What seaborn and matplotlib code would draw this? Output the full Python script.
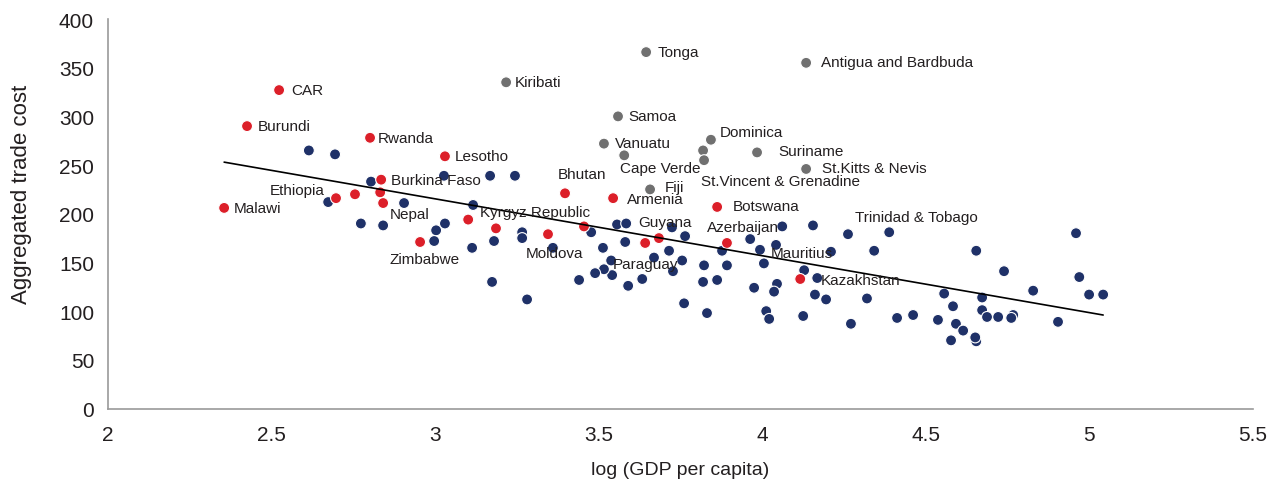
import numpy as np
import pandas as pd
import seaborn as sns
import matplotlib.pyplot as plt

# landlocked developing countries (red)
red_x = [2.523, 2.425, 2.801, 3.030, 2.835, 2.697, 2.755, 2.832, 2.841, 2.954, 3.101,
         3.186, 3.345, 3.397, 3.544, 3.455, 3.642, 3.684, 3.862, 3.892, 2.355, 4.116]
red_y = [327, 290, 278, 259, 235, 216, 220, 222, 211, 171, 194,
         185, 179, 221, 216, 187, 170, 175, 207, 170, 206, 133]
red_names = ['CAR', 'Burundi', 'Rwanda', 'Lesotho', 'Burkina Faso', 'Ethiopia', '', '', 'Nepal',
             'Zimbabwe', 'Kyrgyz Republic', '', 'Moldova', 'Bhutan', 'Armenia', '', 'Paraguay', '',
             'Botswana', 'Azerbaijan', 'Malawi', 'Kazakhstan']

# small island states (grey)
grey_x = [3.645, 4.134, 3.217, 3.559, 3.516, 3.578, 3.657, 3.843, 3.819, 3.822, 3.984, 4.134]
grey_y = [366, 355, 335, 300, 272, 260, 225, 276, 265, 255, 263, 246]
grey_names = ['Tonga', 'Antigua and Bardbuda', 'Kiribati', 'Samoa', 'Vanuatu', 'Cape Verde', 'Fiji',
              'Dominica', '', 'St.Vincent & Grenadine', 'Suriname', 'St.Kitts & Nevis']

# other countries (navy)
navy_x = [2.614, 2.694, 2.804, 2.673, 2.905, 2.773, 2.841, 3.030, 3.003, 2.997, 3.027, 3.168,
          3.244, 3.116, 3.180, 3.113, 3.266, 3.266, 3.360, 3.174, 3.281, 3.477, 3.556, 3.584,
          3.513, 3.581, 3.538, 3.541, 3.516, 3.489, 3.440, 3.590, 3.633, 3.715, 3.669, 3.755,
          3.727, 3.724, 3.764, 3.761, 3.822, 3.892, 3.877, 3.819, 3.862, 3.831, 3.963, 4.061,
          3.993, 4.042, 4.005, 3.975, 4.045, 4.036, 4.012, 4.021, 4.128, 4.125, 4.155, 4.262,
          4.388, 4.210, 4.342, 4.654, 4.739, 4.168, 4.161, 4.195, 4.320, 4.556, 4.583, 4.672,
          4.672, 4.687, 4.721, 4.767, 4.761, 4.271, 4.412, 4.461, 4.537, 4.592, 4.614, 4.577,
          4.654, 4.651, 4.959, 4.969, 4.999, 5.042, 4.904, 4.828]
navy_y = [265, 261, 233, 212, 211, 190, 188, 190, 183, 172, 239, 239,
          239, 209, 172, 165, 181, 175, 165, 130, 112, 181, 189, 190,
          165, 171, 152, 137, 143, 139, 132, 126, 133, 162, 155, 152,
          141, 186, 177, 108, 147, 147, 162, 130, 132, 98, 174, 187,
          163, 168, 149, 124, 128, 120, 100, 92, 142, 95, 188, 179,
          181, 161, 162, 162, 141, 134, 117, 112, 113, 118, 105, 114,
          101, 94, 94, 96, 93, 87, 93, 96, 91, 87, 80, 70,
          69, 73, 180, 135, 117, 117, 89, 121]
navy_names = [''] * len(navy_x)
navy_names[37] = 'Guyana'
navy_names[50] = 'Mauritius'
navy_names[60] = 'Trinidad & Tobago'

# fitted trend line end points
trend_x = [2.355, 5.042]
trend_y = [253, 96]

# label offsets in pixels: (dx, dy, ha)
label_pos = {
    'CAR': (12, 0, 'left'), 'Burundi': (11, 0, 'left'), 'Rwanda': (8, 0, 'left'),
    'Lesotho': (10, 0, 'left'), 'Burkina Faso': (10, 0, 'left'), 'Ethiopia': (-11, 8, 'right'),
    'Malawi': (10, 0, 'left'), 'Nepal': (7, -11, 'left'), 'Zimbabwe': (4, -17, 'center'),
    'Kyrgyz Republic': (12, 8, 'left'), 'Moldova': (6, -19, 'center'), 'Bhutan': (17, 19, 'center'),
    'Armenia': (14, -1, 'left'), 'Paraguay': (0, -21, 'center'), 'Botswana': (16, 1, 'left'),
    'Azerbaijan': (-20, 16, 'left'), 'Kazakhstan': (21, -1, 'left'),
    'Tonga': (11, 0, 'left'), 'Antigua and Bardbuda': (15, 1, 'left'), 'Kiribati': (9, 0, 'left'),
    'Samoa': (10, 0, 'left'), 'Vanuatu': (11, 1, 'left'), 'Cape Verde': (-4, -13, 'left'),
    'Fiji': (15, 2, 'left'), 'Dominica': (9, 8, 'left'), 'St.Vincent & Grenadine': (-3, -21, 'left'),
    'Suriname': (21, 1, 'left'), 'St.Kitts & Nevis': (16, 1, 'left'),
    'Guyana': (-7, 5, 'center'), 'Mauritius': (7, 10, 'left'), 'Trinidad & Tobago': (-34, 15, 'left'),
}

df = pd.concat([
    pd.DataFrame({'x': navy_x, 'y': navy_y, 'name': navy_names, 'group': 'other'}),
    pd.DataFrame({'x': red_x, 'y': red_y, 'name': red_names, 'group': 'lldc'}),
    pd.DataFrame({'x': grey_x, 'y': grey_y, 'name': grey_names, 'group': 'sids'}),
], ignore_index=True)

sns.set_style('white')
plt.rcParams['font.family'] = ['Liberation Sans', 'DejaVu Sans']

fig = plt.figure(figsize=(12.73, 4.85), dpi=100)
ax = fig.add_axes([108 / 1273, 75.5 / 485, 1145 / 1273, 389.5 / 485])

palette = {'other': '#1f3168', 'lldc': '#dc1f29', 'sids': '#707070'}
sns.scatterplot(data=df, x='x', y='y', hue='group', palette=palette, s=62,
                edgecolor='white', linewidth=0.8, legend=False, ax=ax, zorder=3)
sns.lineplot(x=trend_x, y=trend_y, color='black', linewidth=1.2, ax=ax, zorder=4)

for _, row in df[df['name'] != ''].iterrows():
    dx, dy, ha = label_pos[row['name']]
    ax.annotate(row['name'], (row['x'], row['y']), xytext=(dx, dy),
                textcoords='offset pixels', ha=ha, va='center',
                fontsize=11, color='#231f20', zorder=5)

ax.set_xlim(2, 5.5)
ax.set_ylim(0, 400)
ax.set_xticks(np.arange(2, 5.51, 0.5))
ax.set_xticklabels(['2', '2.5', '3', '3.5', '4', '4.5', '5', '5.5'])
ax.set_yticks(range(0, 401, 50))
ax.set_xlabel('log (GDP per capita)', fontsize=14, color='#231f20', labelpad=12)
ax.set_ylabel('Aggregated trade cost', fontsize=16, color='#231f20')
ax.yaxis.set_label_coords(-0.066, 0.553)

sns.despine(ax=ax)
for side in ['left', 'bottom']:
    ax.spines[side].set_color('#9a9a9a')
    ax.spines[side].set_linewidth(1.2)
ax.tick_params(axis='both', which='major', length=6, width=1, color='#9a9a9a',
               labelsize=15, labelcolor='#231f20', direction='out')
ax.tick_params(axis='x', pad=6)
ax.tick_params(axis='y', pad=4)

plt.savefig('out.png', dpi=100)
